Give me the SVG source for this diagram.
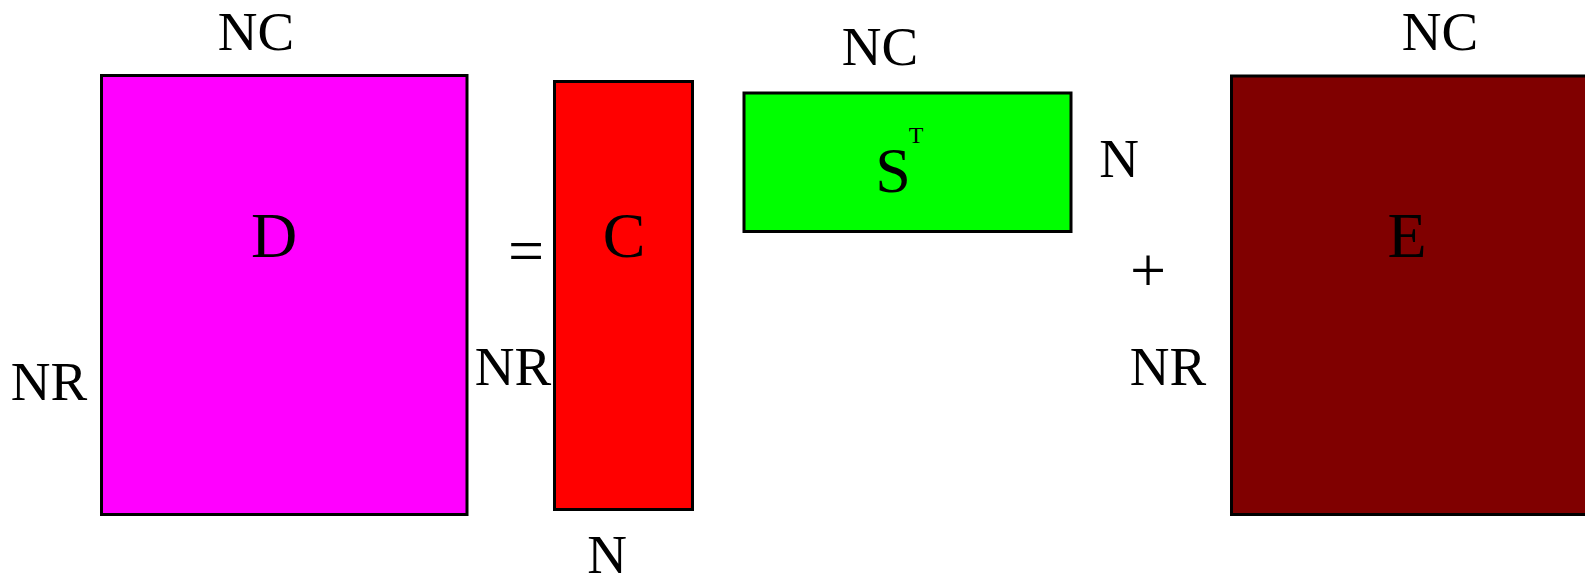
<svg xmlns="http://www.w3.org/2000/svg" width="1585" height="579" viewBox="0 0 1585 579">
<style>
.m{stroke:#000;stroke-width:3}
.lbl{font-family:"Liberation Serif","Times New Roman",serif;font-size:55px;fill:#000;text-anchor:middle}
.big{font-family:"Liberation Serif","Times New Roman",serif;font-size:64px;fill:#000;text-anchor:middle}
.sup{font-family:"Liberation Serif","Times New Roman",serif;font-size:24px;fill:#000;text-anchor:middle}
</style>
<rect width="1585" height="579" fill="#fff"/>
<g id="D">
<rect class="m" x="101.5" y="75.5" width="365.5" height="439" fill="#ff00ff"/>
<text class="big" x="274" y="257">D</text>
<text class="lbl" x="256" y="50">NC</text>
<text class="lbl" x="49" y="400">NR</text>
</g>
<g id="eq"><text class="big" x="526" y="272">=</text></g>
<g id="C">
<rect class="m" x="554.5" y="81.5" width="138" height="428" fill="#ff0000"/>
<text class="big" x="624" y="257">C</text>
<text class="lbl" x="513" y="385">NR</text>
<text class="lbl" x="607" y="573">N</text>
</g>
<g id="S">
<rect class="m" x="744" y="93" width="327" height="138.5" fill="#00ff00"/>
<text class="big" x="893" y="192">S</text>
<text class="sup" x="916" y="143">T</text>
<text class="lbl" x="880" y="65">NC</text>
<text class="lbl" x="1119" y="177">N</text>
</g>
<g id="plus"><text class="big" x="1148" y="292">+</text></g>
<g id="E">
<rect class="m" x="1231.5" y="76" width="400" height="438.5" fill="#800000"/>
<text class="big" x="1407" y="257">E</text>
<text class="lbl" x="1440" y="50">NC</text>
<text class="lbl" x="1168" y="385">NR</text>
</g>
<g id="connectors"></g>
</svg>
